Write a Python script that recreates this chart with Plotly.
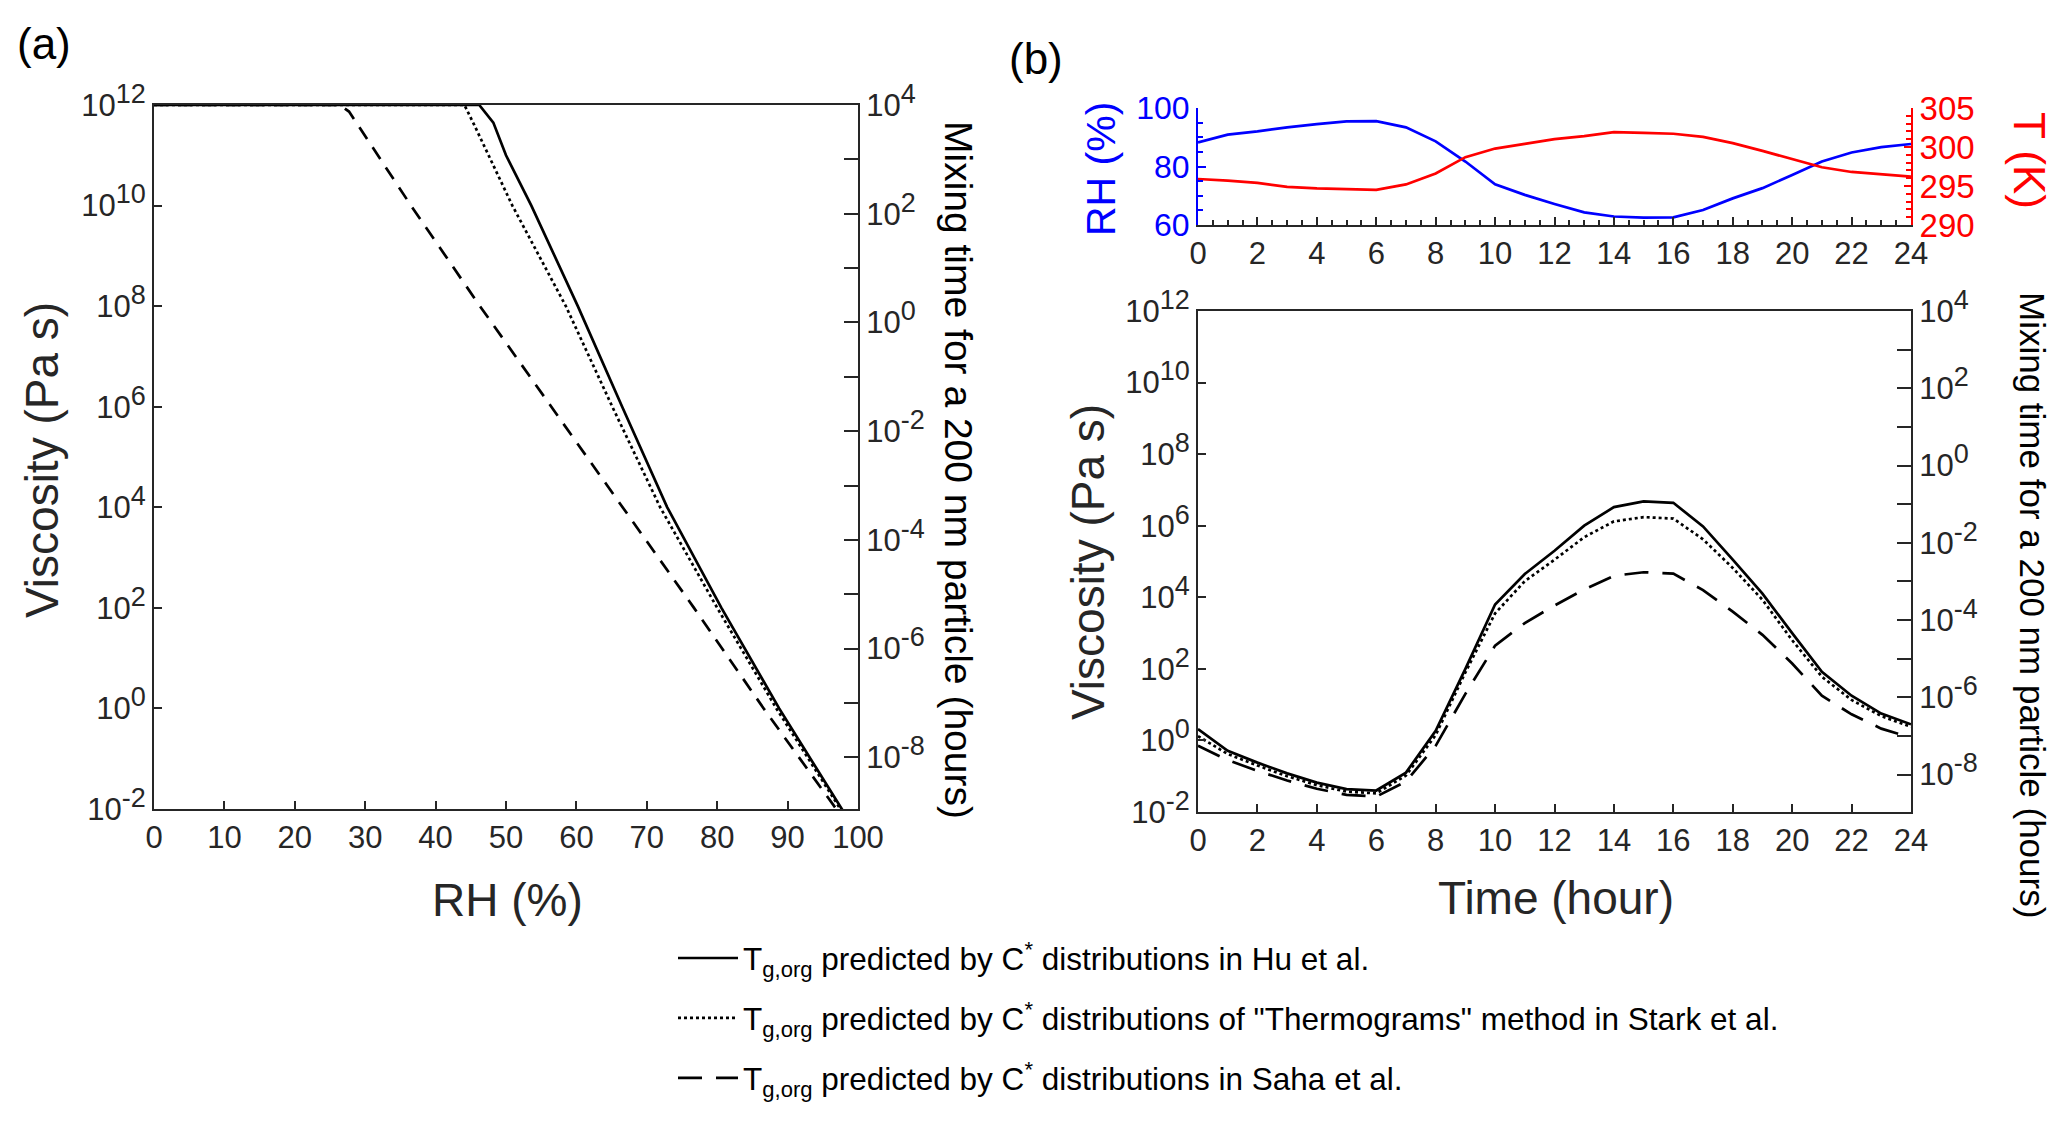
import numpy as np
import plotly.graph_objects as go

# ---------------- data ----------------
# (a) viscosity vs RH, values are log10(viscosity / Pa s)
rh_hu = [0, 46.2, 48.2, 50.0, 53.6, 60.2, 66.5, 72.9, 80.6, 88.8, 97.7, 100]
lg_hu = [12, 12, 11.65, 11.0, 10.0, 8.0, 6.0, 4.0, 2.0, 0.0, -2.0, -2.5]
rh_stark = [0, 44.1, 45.5, 50.9, 58.5, 65.1, 71.9, 80.0, 88.4, 97.5, 100]
lg_stark = [12, 12, 11.6, 10.0, 8.0, 6.0, 4.0, 2.0, 0.0, -2.0, -2.55]
rh_saha = [0, 26.4, 27.7, 36.5, 46.3, 56.4, 66.6, 76.7, 86.6, 96.8, 100]
lg_saha = [12, 12, 11.87, 10.0, 8.0, 6.0, 4.0, 2.0, 0.0, -2.0, -2.6]

# (b) diurnal cycle, hourly
hour = list(range(25))
rh_day = [88.2, 90.9, 92.0, 93.4, 94.5, 95.4, 95.5, 93.4, 88.6, 81.7, 73.9, 70.3, 67.2,
          64.3, 62.9, 62.5, 62.6, 65.1, 69.1, 72.6, 77.1, 81.7, 84.8, 86.6, 87.7]
t_day = [295.9, 295.7, 295.4, 294.9, 294.7, 294.6, 294.5, 295.2, 296.6, 298.7, 299.8, 300.4, 301.0,
         301.4, 301.9, 301.8, 301.7, 301.3, 300.5, 299.5, 298.4, 297.4, 296.8, 296.5, 296.2]
lg_hu_day = [0.32, -0.29, -0.62, -0.92, -1.18, -1.36, -1.40, -0.90, 0.27, 2.0, 3.8, 4.65, 5.3,
             6.0, 6.52, 6.68, 6.64, 5.98, 5.05, 4.1, 3.0, 1.92, 1.25, 0.75, 0.45]
lg_stark_day = [0.12, -0.38, -0.70, -1.0, -1.25, -1.43, -1.48, -0.98, 0.15, 1.9, 3.55, 4.45, 5.05,
                5.68, 6.12, 6.24, 6.2, 5.62, 4.82, 3.93, 2.8, 1.78, 1.13, 0.68, 0.38]
lg_saha_day = [-0.15, -0.55, -0.85, -1.12, -1.35, -1.52, -1.57, -1.15, -0.15, 1.3, 2.65, 3.28, 3.77,
               4.22, 4.6, 4.7, 4.66, 4.2, 3.6, 2.95, 2.15, 1.25, 0.73, 0.33, 0.08]

legend_names = [
    'T<sub>g,org</sub> predicted by C<sup>*</sup> distributions in Hu et al.',
    'T<sub>g,org</sub> predicted by C<sup>*</sup> distributions of "Thermograms" method in Stark et al.',
    'T<sub>g,org</sub> predicted by C<sup>*</sup> distributions in Saha et al.',
]

visc_exps = list(range(-2, 13, 2))
mix_exps = list(range(-8, 5, 2))
mix_minor_exps = list(range(-7, 4, 2))

W, H = 2067, 1128
OFF = 8  # page body margin
FONT = 'Liberation Sans, Arial, sans-serif'
INK = '#262626'


def px_x(p):
    return (p - OFF) / W


def px_y(p):
    return 1 - (p - OFF) / H


def sup(e):
    return '10<sup><span style="font-size:27px">%d</span></sup>' % e


fig = go.Figure()

# panel (a)
styles_a = [dict(color='black', width=2.7),
            dict(color='black', width=2.7, dash='3px,3px'),
            dict(color='black', width=2.7, dash='14px,10px')]
for xs, ys, st in zip([rh_hu, rh_stark, rh_saha], [lg_hu, lg_stark, lg_saha], styles_a):
    fig.add_trace(go.Scatter(x=xs, y=np.power(10.0, ys), mode='lines', line=st,
                             showlegend=False, hoverinfo='skip', xaxis='x', yaxis='y'))
# empty trace so the mixing-time axis of (a) is drawn
fig.add_trace(go.Scatter(x=[], y=[], showlegend=False, xaxis='x', yaxis='y2'))

# panel (b) top: RH and T
fig.add_trace(go.Scatter(x=hour, y=rh_day, mode='lines', line=dict(color='#0000ff', width=2.7),
                         showlegend=False, xaxis='x3', yaxis='y3'))
fig.add_trace(go.Scatter(x=hour, y=t_day, mode='lines', line=dict(color='#ff0000', width=2.7),
                         showlegend=False, xaxis='x3', yaxis='y4'))

# panel (b) bottom
styles_b = [dict(color='black', width=2.7),
            dict(color='black', width=2.7, dash='3px,3px'),
            dict(color='black', width=2.7, dash='24px,14px')]
for i, (ys, st) in enumerate(zip([lg_hu_day, lg_stark_day, lg_saha_day], styles_b)):
    fig.add_trace(go.Scatter(x=hour, y=np.power(10.0, ys), mode='lines', line=st,
                             name=legend_names[i], legendgroup='g%d' % i,
                             xaxis='x4', yaxis='y5'))
fig.add_trace(go.Scatter(x=[], y=[], showlegend=False, xaxis='x4', yaxis='y6'))

tickfont = dict(family=FONT, size=31, color=INK)
common = dict(showline=True, linecolor=INK, linewidth=2, ticks='inside', tickcolor=INK,
              tickwidth=1.5, showgrid=False, zeroline=False, tickfont=tickfont,
              automargin=False)

dom_a = [px_x(154), px_x(858)]
dom_b = [px_x(1198), px_x(1911)]

mix_axis = dict(side='right', type='log',
                tickvals=[10.0 ** e for e in mix_exps], ticktext=[sup(e) for e in mix_exps],
                ticklen=14,
                minor=dict(tickvals=[10.0 ** e for e in mix_minor_exps], ticklen=14,
                           tickcolor=INK, tickwidth=1.5, ticks='inside'),
                **common)

fig.update_layout(
    width=W, height=H, margin=dict(l=0, r=0, t=0, b=0),
    paper_bgcolor='white', plot_bgcolor='white',
    font=dict(family=FONT, color=INK),
    xaxis=dict(domain=dom_a, anchor='y', range=[0, 100], tickvals=list(range(0, 101, 10)),
               ticklen=8, mirror=True, **common),
    yaxis=dict(domain=[px_y(809), px_y(105)], anchor='x', type='log', range=[-2, 12],
               tickvals=[10.0 ** e for e in visc_exps], ticktext=[sup(e) for e in visc_exps],
               ticklen=8, mirror=True, **common),
    yaxis2=dict(overlaying='y', anchor='x', range=[-8.95, 4], **mix_axis),
    xaxis3=dict(domain=dom_b, anchor='y3', range=[0, 24], tickvals=list(range(0, 25, 2)),
                ticklen=8, minor=dict(dtick=0.5, ticklen=5, tickcolor=INK, ticks='inside'),
                **common),
    yaxis3=dict(domain=[px_y(225), px_y(108)], anchor='x3', range=[60, 100],
                tickvals=[60, 80, 100], showline=True, linecolor='#0000ff', linewidth=2,
                ticks='inside', tickcolor='#0000ff', tickwidth=1.5, ticklen=8,
                minor=dict(dtick=5, ticklen=5, tickcolor='#0000ff', ticks='inside'),
                showgrid=False, zeroline=False, automargin=False,
                tickfont=dict(family=FONT, size=32, color='#0000ff')),
    yaxis4=dict(overlaying='y3', side='right', anchor='x3', range=[290, 305],
                tickvals=[290, 295, 300, 305], showline=True, linecolor='#ff0000', linewidth=2,
                ticks='inside', tickcolor='#ff0000', tickwidth=1.5, ticklen=7,
                minor=dict(dtick=1, ticklen=5, tickcolor='#ff0000', ticks='inside'),
                showgrid=False, zeroline=False, automargin=False,
                tickfont=dict(family=FONT, size=33, color='#ff0000')),
    xaxis4=dict(domain=dom_b, anchor='y5', range=[0, 24], tickvals=list(range(0, 25, 2)),
                ticklen=8, mirror=True, **common),
    yaxis5=dict(domain=[px_y(812), px_y(311)], anchor='x4', type='log', range=[-2, 12],
                tickvals=[10.0 ** e for e in visc_exps], ticktext=[sup(e) for e in visc_exps],
                ticklen=8, mirror=True, **common),
    yaxis6=dict(overlaying='y5', anchor='x4', range=[-8.97, 4], **mix_axis),
    legend=dict(x=px_x(673), y=px_y(931), xanchor='left', yanchor='top',
                font=dict(family=FONT, size=31.5, color='black'), tracegroupgap=16,
                bgcolor='rgba(0,0,0,0)', itemwidth=60),
)

title_font = dict(family=FONT, size=46, color=INK)
ann = [
    dict(text='(a)', x=px_x(44), y=px_y(43), font=dict(family=FONT, size=44, color='black')),
    dict(text='(b)', x=px_x(1036), y=px_y(58), font=dict(family=FONT, size=44, color='black')),
    dict(text='RH (%)', x=px_x(507), y=px_y(900), font=title_font),
    dict(text='Viscosity (Pa s)', x=px_x(42), y=px_y(460), textangle=-90, font=title_font),
    dict(text='Mixing time for a 200 nm particle (hours)', x=px_x(958), y=px_y(470),
         textangle=90, font=dict(family=FONT, size=39, color='black')),
    dict(text='Time (hour)', x=px_x(1556), y=px_y(898), font=title_font),
    dict(text='Viscosity (Pa s)', x=px_x(1088), y=px_y(562), textangle=-90, font=title_font),
    dict(text='Mixing time for a 200 nm particle (hours)', x=px_x(2033), y=px_y(605),
         textangle=90, font=dict(family=FONT, size=35, color='black')),
    dict(text='RH (%)', x=px_x(1101), y=px_y(169), textangle=-90,
         font=dict(family=FONT, size=41, color='#0000ff')),
    dict(text='T (K)', x=px_x(2029), y=px_y(160), textangle=90,
         font=dict(family=FONT, size=44, color='#ff0000')),
]
for a in ann:
    a.update(xref='paper', yref='paper', showarrow=False, xanchor='center', yanchor='middle')
fig.update_layout(annotations=ann)

fig.write_html("out.html")
